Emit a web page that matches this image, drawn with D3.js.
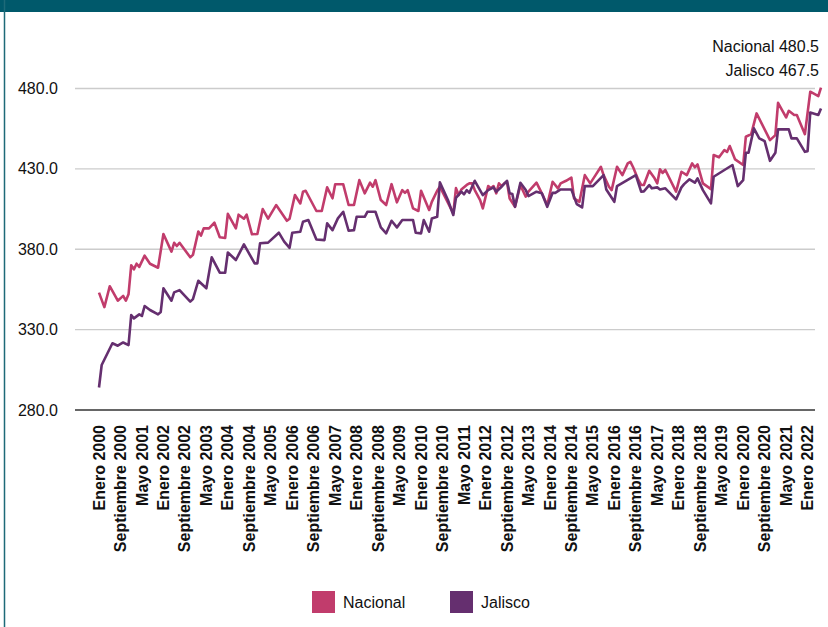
<!DOCTYPE html>
<html>
<head>
<meta charset="utf-8">
<script src="https://cdn.jsdelivr.net/npm/d3@7"></script>
<style>
  body { margin: 0; background: #fff; }
  text { font-family: "Liberation Sans", Arial, sans-serif; fill: #111; }
</style>
</head>
<body>
<div id="chart"></div>
<script>
// series: [month index from Enero 2000, value]
const nacional = [
  [0,353],[2,344],[4,357],[7,348],[9,351],[10,348],[11,352],[12,370],[13,367.5],[14,371],
  [15,369],[17,376],[19,371],[22,368.5],[24,389.5],[27,378.5],[28,384],[29,382],[30,384],
  [34,375],[35,376.5],[37,391],[38,388.5],[39,393],[41,393],[43,396.5],[45,387.5],[47,387],
  [48,402],[51,393],[52,401.5],[54,399],[55,401.5],[57,389.3],[59,389.5],[61,405],[63,399],
  [66,407.5],[70,397.7],[71,399],[73,413.7],[75,408.5],[76,415.8],[77,416.4],[81,403.8],
  [83,403.8],[85,418.5],[87,411.7],[88,420.4],[91,420.4],[93,407.5],[95,407.5],[97,423],
  [99,414.8],[101,421.4],[102,418.9],[103,423],[105,410.6],[107,407.5],[109,420.5],
  [111,409.2],[113,416.8],[114,415.1],[115,416.8],[117,405.4],[119,403.8],[120,416.4],
  [123,404.4],[124,409.5],[126,416.4],[127,418.9],[132,402.3],[133,418],[134,413.7],
  [135,417.2],[137,420],[138,421],[139,421],[140,416.8],[142,410.6],[143,405.4],[145,419.3],
  [146,417.9],[147,419.3],[148,414.8],[149,421],[150,419.3],[151,421],[152,422],[153,411.6],
  [155,406.4],[157,419.9],[159,412.7],[160,415.8],[163,421.4],[165,414.8],[167,407.5],
  [169,422],[171,417.9],[172,421],[174,422.6],[176,424.5],[177,411.6],[179,409.5],
  [181,426.1],[183,421],[185,426.1],[187,431.3],[188,426.1],[190,418.9],[191,416.8],
  [193,431.3],[195,426.1],[197,433.4],[198,434.4],[199,431],[201,423],[202,420],[203,420],
  [205,428.8],[207,424.1],[208,421],[209,429.7],[210,427.5],[211,429.3],[215,415.8],
  [217,428.2],[219,426.1],[221,433.4],[222,431],[223,432.8],[225,421],[228,417.4],
  [229,438.6],[231,437.2],[233,441.7],[234,440.5],[235,444.2],[237,435.9],[240,432.4],
  [241,450],[243,451.6],[245,464.5],[250,447.9],[252,451],[253,471.1],[256,462],
  [257,466.1],[259,463.5],[260,463.5],[263,451.6],[265,478],[268,475.3],[269,480.5]
];
const jalisco = [
  [0,294],[1,308],[5,321.5],[7,320],[9,322],[11,320.4],[12,339],[13,337],[15,339.5],
  [16,338.5],[17,344.7],[19,342.2],[22,339.5],[23,341],[24,355.7],[27,348],[28,353.2],
  [30,354.6],[34,347.4],[35,349],[37,360.4],[40,355.7],[42,375],[45,365.4],[47,365.4],
  [48,378],[51,373.3],[54,383],[58,371.2],[59,371.2],[60,383.7],[63,384.1],[67,390.3],
  [69,384.7],[71,380.9],[72,390.3],[75,390.9],[76,397.1],[78,398.2],[81,386.1],[84,385.7],
  [85,396.1],[87,391.9],[89,399.2],[91,403.3],[93,391.5],[95,391.9],[96,400.2],[99,400.2],
  [100,403.3],[103,403.3],[105,393.6],[107,389.9],[109,397.7],[111,393.6],[113,398.2],
  [117,398.2],[118,390.3],[120,389.9],[121,398.2],[123,390.9],[124,399.2],[126,400.2],
  [127,421.6],[130,410.6],[132,401.3],[133,412],[135,415.8],[136,414.1],[137,416.8],
  [138,415.1],[140,422.6],[143,413.7],[145,416.8],[147,418.5],[148,415.8],[150,418.9],
  [152,422.6],[153,414.8],[154,414.3],[155,406.4],[157,421.4],[159,416.8],[160,413.1],
  [163,415.8],[165,414.8],[167,406.4],[169,415.1],[170,415.1],[172,417.2],[176,417.2],
  [178,408.1],[180,406],[181,419.3],[184,419.3],[188,426.1],[189,417.2],[192,409.5],
  [193,419.3],[200,426.1],[202,415.8],[203,416],[205,419.9],[206,417.9],[208,418.5],
  [209,417.2],[211,417.9],[215,411],[217,418.5],[218,420.5],[220,423.5],[222,421.4],
  [223,424.1],[225,416.8],[228,408.5],[229,425.1],[236,432.4],[238,419.3],[240,423],
  [241,440],[242,440],[244,455.2],[246,449],[248,447.3],[250,435],[252,440],[253,454.6],
  [257,454.6],[258,449],[260,449],[263,440.6],[264,441],[265,465.1],[268,463.5],[269,467.5]
];
const monthNames = ["Enero","Febrero","Marzo","Abril","Mayo","Junio","Julio","Agosto",
  "Septiembre","Octubre","Noviembre","Diciembre"];
const yTicks = [280, 330, 380, 430, 480];
const seriesNames = ["Nacional", "Jalisco"];
const seriesColors = ["#c13c6c", "#652f6f"];
const lastMonth = 269;

// tick every 8 months, starting Enero 2000
const xTicks = d3.range(0, lastMonth + 1, 8);
const monthLabel = m => monthNames[m % 12] + " " + (2000 + Math.floor(m / 12));

const width = 828, height = 627;
const svg = d3.select("#chart").append("svg")
  .attr("width", width).attr("height", height);

// header band and frame
svg.append("rect").attr("x", 0).attr("y", 0).attr("width", width).attr("height", 12)
  .attr("fill", "#00596b");
svg.append("line").attr("x1", 4.5).attr("x2", 4.5).attr("y1", 0).attr("y2", height)
  .attr("stroke", "#1d6a78").attr("stroke-width", 1.5);

const x = d3.scaleLinear().domain([0, lastMonth]).range([99, 821]);
const y = d3.scaleLinear().domain([280, 480]).range([410, 88.5]);

// grid
svg.append("g").selectAll("line").data(yTicks).enter().append("line")
  .attr("x1", 75).attr("x2", 815)
  .attr("y1", d => y(d)).attr("y2", d => y(d))
  .attr("stroke", d => d == 280 ? "#333" : "#cccccc")
  .attr("stroke-width", d => d == 280 ? 1.6 : 1.3);

svg.append("g").selectAll("text").data(yTicks).enter().append("text")
  .attr("x", 58).attr("y", d => y(d)).attr("dy", "0.35em")
  .attr("text-anchor", "end").style("font-size", "16px")
  .text(d => d.toFixed(1));

// x labels
svg.append("g").selectAll("text").data(xTicks).enter().append("text")
  .attr("transform", d => `translate(${x(d)},425) rotate(-90)`)
  .attr("dy", "0.35em").attr("text-anchor", "end")
  .style("font-size", "16px").style("font-weight", "bold")
  .text(monthLabel);

// lines
const line = d3.line().x(d => x(d[0])).y(d => y(d[1]));
[nacional, jalisco].forEach((s, i) => {
  svg.append("path").datum(s)
    .attr("d", line).attr("fill", "none")
    .attr("stroke", seriesColors[i]).attr("stroke-width", 2.6)
    .attr("stroke-linejoin", "round");
});

// last values
const lastVals = [nacional[nacional.length - 1][1], jalisco[jalisco.length - 1][1]];
svg.append("g").selectAll("text").data(seriesNames).enter().append("text")
  .attr("x", 819).attr("y", (d, i) => 52 + i * 24)
  .attr("text-anchor", "end").style("font-size", "16px")
  .text((d, i) => d + " " + lastVals[i].toFixed(1));

// legend
const legendX = [312, 450];
const lg = svg.append("g").selectAll("g").data(seriesNames).enter().append("g")
  .attr("transform", (d, i) => `translate(${legendX[i]},591)`);
lg.append("rect").attr("width", 23).attr("height", 22)
  .attr("fill", (d, i) => seriesColors[i]);
lg.append("text").attr("x", 31).attr("y", 17).style("font-size", "16px").text(d => d);
</script>
</body>
</html>
